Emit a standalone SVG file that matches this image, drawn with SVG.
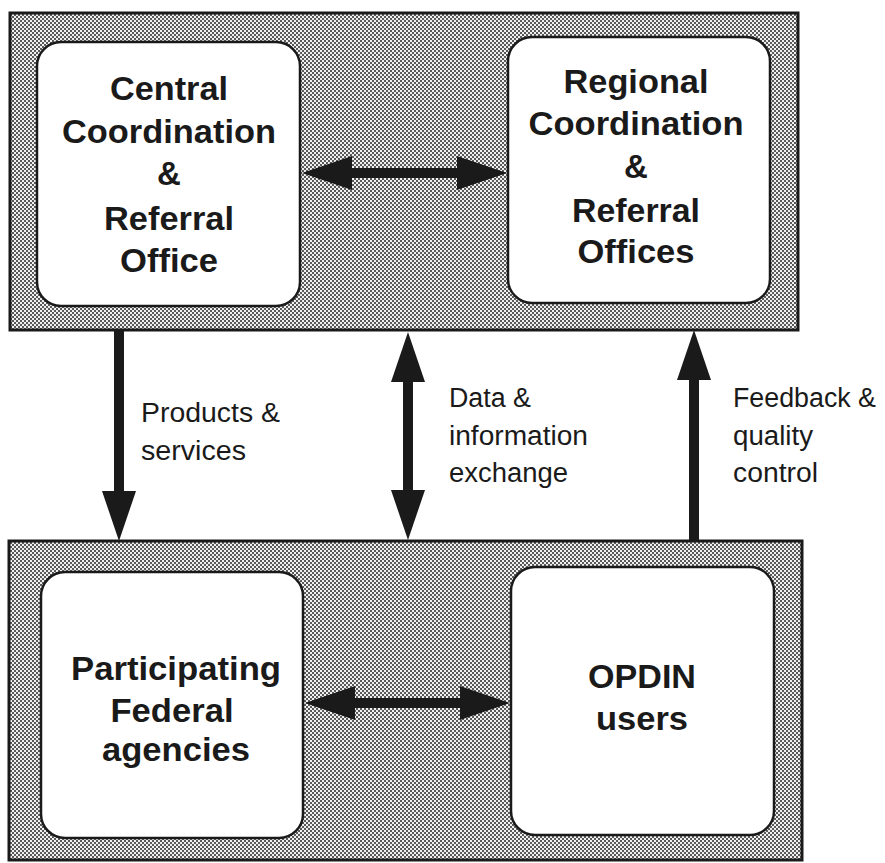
<svg xmlns="http://www.w3.org/2000/svg" width="885" height="863" viewBox="0 0 885 863">
<defs>
<pattern id="dots" width="4" height="4" patternUnits="userSpaceOnUse">
<rect width="4" height="4" fill="#f0f0f0"/>
<rect x="0" y="0" width="2" height="2" fill="#5a5a5a"/>
<rect x="2" y="2" width="2" height="2" fill="#5a5a5a"/>
</pattern>
<marker id="ah" viewBox="0 0 50 34" refX="4" refY="17" markerWidth="50" markerHeight="34" markerUnits="userSpaceOnUse" orient="auto-start-reverse">
<path d="M0,0 L50,17 L0,34 z" fill="#1a1a1a"/>
</marker>
<style>
.cont{fill:url(#dots);stroke:#1a1a1a;stroke-width:3}
.node{fill:#fff;stroke:#1a1a1a;stroke-width:2.5}
.nt{font-family:"Liberation Sans",Arial,sans-serif;font-weight:bold;font-size:33px;fill:#1a1a1a;text-anchor:middle}
.lb{font-family:"Liberation Sans",Arial,sans-serif;font-size:27px;fill:#1a1a1a}
.cn{stroke:#1a1a1a;stroke-width:10;fill:none}
</style>
</defs>
<rect width="885" height="863" fill="#fff"/>
<rect id="top-container" class="cont" x="10" y="13" width="788" height="317"/>
<rect id="bottom-container" class="cont" x="9" y="541" width="793" height="319"/>

<g id="central">
<rect class="node" x="37" y="42" width="263" height="264" rx="24"/>
<text class="nt" x="169" y="100" textLength="118" lengthAdjust="spacingAndGlyphs">Central</text>
<text class="nt" x="169" y="143" textLength="214" lengthAdjust="spacingAndGlyphs">Coordination</text>
<text class="nt" x="169" y="185">&amp;</text>
<text class="nt" x="169" y="230" textLength="130" lengthAdjust="spacingAndGlyphs">Referral</text>
<text class="nt" x="169" y="272" textLength="98" lengthAdjust="spacingAndGlyphs">Office</text>
</g>

<g id="regional">
<rect class="node" x="508" y="37" width="262" height="266" rx="24"/>
<text class="nt" x="636" y="93" textLength="145" lengthAdjust="spacingAndGlyphs">Regional</text>
<text class="nt" x="636" y="135" textLength="215" lengthAdjust="spacingAndGlyphs">Coordination</text>
<text class="nt" x="636" y="178">&amp;</text>
<text class="nt" x="636" y="222" textLength="128" lengthAdjust="spacingAndGlyphs">Referral</text>
<text class="nt" x="636" y="263" textLength="117" lengthAdjust="spacingAndGlyphs">Offices</text>
</g>

<g id="federal">
<rect class="node" x="41" y="572" width="262" height="266" rx="24"/>
<text class="nt" x="176" y="680" textLength="210" lengthAdjust="spacingAndGlyphs">Participating</text>
<text class="nt" x="172" y="722" textLength="123" lengthAdjust="spacingAndGlyphs">Federal</text>
<text class="nt" x="176" y="761" textLength="148" lengthAdjust="spacingAndGlyphs">agencies</text>
</g>

<g id="users">
<rect class="node" x="511" y="567" width="263" height="268" rx="24"/>
<text class="nt" x="642" y="688" textLength="108" lengthAdjust="spacingAndGlyphs">OPDIN</text>
<text class="nt" x="642" y="730" textLength="92" lengthAdjust="spacingAndGlyphs">users</text>
</g>

<g id="connectors">
<line class="cn" x1="348" y1="173" x2="461" y2="173" marker-start="url(#ah)" marker-end="url(#ah)"/>
<line class="cn" x1="351" y1="703" x2="464" y2="703" marker-start="url(#ah)" marker-end="url(#ah)"/>
<line class="cn" x1="119" y1="330" x2="119" y2="495" marker-end="url(#ah)"/>
<line class="cn" x1="408" y1="378" x2="408" y2="494" marker-start="url(#ah)" marker-end="url(#ah)"/>
<line class="cn" x1="694" y1="541" x2="694" y2="376" marker-end="url(#ah)"/>
</g>

<g id="labels">
<text class="lb" x="141" y="422" textLength="139" lengthAdjust="spacingAndGlyphs">Products &amp;</text>
<text class="lb" x="141" y="460" textLength="105" lengthAdjust="spacingAndGlyphs">services</text>
<text class="lb" x="449" y="407" textLength="82" lengthAdjust="spacingAndGlyphs">Data &amp;</text>
<text class="lb" x="449" y="445" textLength="139" lengthAdjust="spacingAndGlyphs">information</text>
<text class="lb" x="449" y="482" textLength="119" lengthAdjust="spacingAndGlyphs">exchange</text>
<text class="lb" x="733" y="407" textLength="143" lengthAdjust="spacingAndGlyphs">Feedback &amp;</text>
<text class="lb" x="733" y="445" textLength="80" lengthAdjust="spacingAndGlyphs">quality</text>
<text class="lb" x="733" y="482" textLength="85" lengthAdjust="spacingAndGlyphs">control</text>
</g>
</svg>
